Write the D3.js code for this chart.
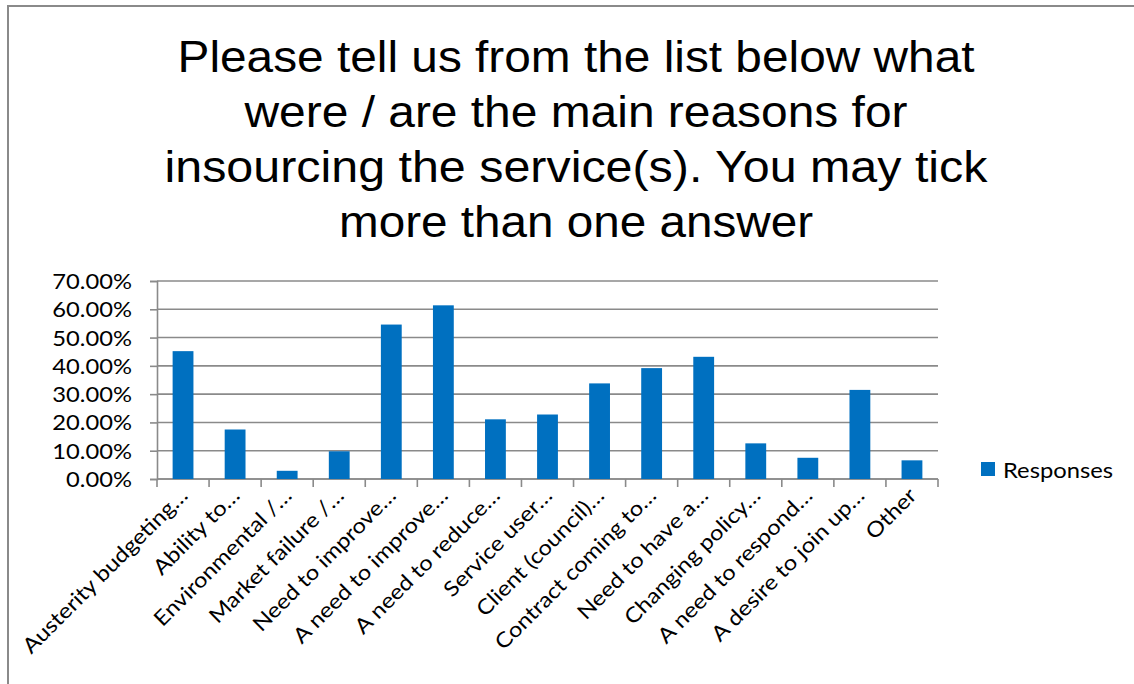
<!DOCTYPE html>
<meta charset="utf-8">
<script src="https://d3js.org/d3.v7.min.js"></script>
<style>
  body { margin: 0; background: #fff; }
  svg { display: block; }
  .label { font-family: Lato, 'Open Sans', sans-serif; fill: #000; }
</style>
<body>
<svg width="1134" height="684"></svg>
<script>
// data
var categories = [
  "Austerity budgeting\u2026", "Ability to\u2026", "Environmental /\u2026", "Market failure /\u2026",
  "Need to improve\u2026", "A need to improve\u2026", "A need to reduce\u2026", "Service user\u2026",
  "Client (council)\u2026", "Contract coming to\u2026", "Need to have a\u2026", "Changing policy\u2026",
  "A need to respond\u2026", "A desire to join up\u2026", "Other"
];
var responses = [45.2, 17.5, 2.9, 9.8, 54.6, 61.4, 21.1, 22.8, 33.8, 39.2, 43.2, 12.6, 7.5, 31.5, 6.6];
var yTicks = [0, 10, 20, 30, 40, 50, 60, 70];
var titleLines = [
  "Please tell us from the list below what",
  "were / are the main reasons for",
  "insourcing the service(s). You may tick",
  "more than one answer"
];
var titleWidths = [797, 663, 823, 474];
var seriesName = "Responses";

var svg = d3.select("svg"),
    margin = {top: 281, left: 157, right: 196, bottom: 205},
    width = 1134 - margin.left - margin.right,
    height = 684 - margin.top - margin.bottom;

var gray = "#8a8a8a", blue = "#0070c0";
var stretch = 1.13; // labels in the picture are a bit wider than Lato

// outer frame (top + left edges visible)
svg.append("path")
    .attr("d", "M8,684V6H1134")
    .attr("fill", "none")
    .attr("stroke", gray)
    .attr("stroke-width", 2);

// title
svg.append("g")
  .selectAll("text")
  .data(titleLines)
  .enter().append("text")
    .attr("x", 576)
    .attr("y", function(d, i) { return 72 + i * 55; })
    .attr("text-anchor", "middle")
    .attr("font-family", "'Liberation Sans', Arial, sans-serif")
    .attr("font-size", 44)
    .attr("textLength", function(d, i) { return titleWidths[i]; })
    .attr("lengthAdjust", "spacingAndGlyphs")
    .text(function(d) { return d; });

var g = svg.append("g").attr("transform", "translate(" + margin.left + "," + margin.top + ")");

var x = d3.scaleBand()
    .domain(categories)
    .range([0, width])
    .paddingInner(0.6)
    .paddingOuter(0.3);

var y = d3.scaleLinear()
    .domain([0, 70])
    .range([height, 0]);

// gridlines
g.append("g")
  .selectAll("line")
  .data(yTicks)
  .enter().append("line")
    .attr("x1", 0)
    .attr("x2", width)
    .attr("y1", function(d) { return y(d); })
    .attr("y2", function(d) { return y(d); })
    .attr("stroke", gray)
    .attr("stroke-width", 1.6);

// y axis
var yAxis = g.append("g")
    .call(d3.axisLeft(y).tickValues(yTicks).tickSize(7).tickPadding(18)
      .tickFormat(function(d) { return d.toFixed(2) + "%"; }));
yAxis.selectAll("line, path").attr("stroke", gray).attr("stroke-width", 1.6);
yAxis.selectAll("text")
    .attr("class", "label")
    .attr("font-size", 21)
    .attr("dy", "0.36em")
    .each(function() {
      d3.select(this)
        .attr("textLength", this.getComputedTextLength() * stretch)
        .attr("lengthAdjust", "spacingAndGlyphs");
    });

// x axis with ticks between categories
var step = x.step();
var xAxis = g.append("g").attr("transform", "translate(0," + height + ")");
xAxis.append("line")
    .attr("x1", 0).attr("x2", width)
    .attr("stroke", gray).attr("stroke-width", 1.6);
xAxis.selectAll(".tick")
  .data(d3.range(categories.length + 1))
  .enter().append("line")
    .attr("x1", function(i) { return i * step; })
    .attr("x2", function(i) { return i * step; })
    .attr("y1", 0).attr("y2", 8)
    .attr("stroke", gray).attr("stroke-width", 1.6);

// bars
g.append("g")
  .selectAll("rect")
  .data(responses)
  .enter().append("rect")
    .attr("x", function(d, i) { return x(categories[i]); })
    .attr("y", function(d) { return y(d); })
    .attr("width", x.bandwidth())
    .attr("height", function(d) { return height - y(d); })
    .attr("fill", blue);

// rotated category labels
xAxis.selectAll(".cat")
  .data(categories)
  .enter().append("text")
    .attr("class", "label")
    .attr("font-size", 21)
    .attr("text-anchor", "end")
    .attr("transform", function(d) {
      return "translate(" + (x(d) + x.bandwidth() / 2 + 6) + ",18) rotate(-45) scale(" + stretch + ",1)";
    })
    .text(function(d) { return d; });

// legend
var legend = svg.append("g").attr("transform", "translate(981,462)");
legend.append("rect")
    .attr("width", 14).attr("height", 14)
    .attr("fill", blue);
legend.append("text")
    .attr("class", "label")
    .attr("x", 22).attr("y", 16)
    .attr("font-size", 21)
    .attr("textLength", 110)
    .attr("lengthAdjust", "spacingAndGlyphs")
    .text(seriesName);
</script>
</body>
